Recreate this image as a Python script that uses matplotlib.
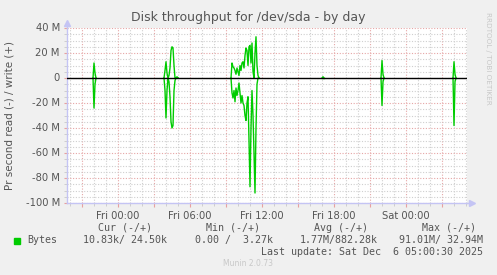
import matplotlib
matplotlib.use("Agg")
import matplotlib.pyplot as plt
import numpy as np
from matplotlib.ticker import MultipleLocator, FixedLocator

# ---- data (hours relative to Fri 00:00, 5-minute samples; values in MB/s) ----
burst_times = [
    [-2.083, -2.0, -1.917, -1.833],
    [3.833, 3.917, 4.0, 4.083, 4.167, 4.25, 4.333, 4.417, 4.5, 4.583, 4.667, 4.75, 4.833, 4.917, 5.0],
    [9.417, 9.5, 9.583, 9.667, 9.75, 9.833, 9.917, 10.0, 10.083, 10.167, 10.25, 10.333, 10.417, 10.5,
     10.583, 10.667, 10.75, 10.833, 10.917, 11.0, 11.083, 11.167, 11.25, 11.333, 11.417, 11.5,
     11.583, 11.667, 11.75],
    [17.0, 17.083, 17.167],
    [21.917, 22.0, 22.083, 22.167],
    [27.917, 28.0, 28.083, 28.167],
]
burst_write = [
    [0, 12, 4, 0],
    [0, 6, 13, 4, 0, 2, 8, 22, 25, 24, 10, 0, 0, 1, 0],
    [0, 12, 9, 8, 6, 3, 8, 5, 2, 10, 6, 12, 13, 8, 18, 24, 22, 10, 25, 26, 12, 28, 5, 0, 20, 33, 10, 2, 0],
    [0, 1, 0],
    [0, 14, 3, 0],
    [0, 13, 3, 0],
]
burst_read = [
    [0, 24, 5, 0],
    [0, 10, 32, 10, 0, 3, 15, 35, 40, 38, 10, 2, 0, 0, 0],
    [0, 12, 16, 10, 19, 8, 14, 10, 4, 12, 20, 14, 20, 22, 30, 34, 20, 15, 50, 87, 40, 10, 30, 60, 92, 40, 5, 0, 0],
    [0, 0, 0],
    [0, 22, 3, 0],
    [0, 38, 3, 0],
]
x_tick_hours = [0, 6, 12, 18, 24]
x_tick_labels = ["Fri 00:00", "Fri 06:00", "Fri 12:00", "Fri 18:00", "Sat 00:00"]
y_ticks = [40, 20, 0, -20, -40, -60, -80, -100]
y_tick_labels = ["40 M", "20 M", "0", "-20 M", "-40 M", "-60 M", "-80 M", "-100 M"]

W, H = 497, 275
fig = plt.figure(figsize=(W / 100, H / 100), dpi=100, facecolor="#f0f0f0")
ax = fig.add_axes([67 / W, (H - 203) / H, 400 / W, 175 / H])
ax.set_facecolor("white")

xmin, xmax = -4.25, 29.083
ax.set_xlim(xmin, xmax)
ax.set_ylim(-100, 40)

green = "#00cc00"
for t, w, r in zip(burst_times, burst_write, burst_read):
    ax.plot(t, w, color=green, lw=1.0, zorder=3)
    ax.plot(t, [-v for v in r], color=green, lw=1.0, zorder=3)

ax.axhline(0, color="black", lw=1.0, zorder=4)

# grid
ax.xaxis.set_major_locator(MultipleLocator(3))
ax.xaxis.set_minor_locator(MultipleLocator(1))
ax.yaxis.set_major_locator(MultipleLocator(20))
ax.yaxis.set_minor_locator(MultipleLocator(5))
ax.grid(which="minor", color="#cfcfcf", linestyle=(0, (1, 1.5)), lw=0.8, zorder=1)
ax.grid(which="major", color="#e6a6a6", linestyle=(0, (1, 1.5)), lw=0.8, zorder=2)
ax.set_axisbelow(True)

ax.tick_params(axis="x", which="major", length=3, color="#e8a0a0", labelbottom=False)
ax.tick_params(axis="x", which="minor", length=2, color="#c8c8c8")
ax.tick_params(axis="y", which="major", length=2, color="#e8a0a0", labelleft=False)
ax.tick_params(axis="y", which="minor", length=2, color="#c8c8c8")

tr_x = ax.get_xaxis_transform()
for h, lab in zip(x_tick_hours, x_tick_labels):
    ax.text(h, -0.045, lab, transform=tr_x, ha="center", va="top", fontsize=7.2, color="#555555")
tr_y = ax.get_yaxis_transform()
for v, lab in zip(y_ticks, y_tick_labels):
    ax.text(-0.018, v, lab, transform=tr_y, ha="right", va="center", fontsize=7.2, color="#555555")

axis_col = "#c4c4f4"
for s in ["top", "right"]:
    ax.spines[s].set_visible(False)
for s in ["left", "bottom"]:
    ax.spines[s].set_color(axis_col)
    ax.spines[s].set_linewidth(1.0)
ax.plot([0], [1.03], marker="^", color=axis_col, markersize=4, transform=ax.transAxes, clip_on=False)
ax.plot([1.013], [0], marker=">", color=axis_col, markersize=4, transform=ax.transAxes, clip_on=False)
ax.plot([0, 0], [1.0, 1.03], color=axis_col, lw=1.0, transform=ax.transAxes, clip_on=False)
ax.plot([1.0, 1.013], [0, 0], color=axis_col, lw=1.0, transform=ax.transAxes, clip_on=False)

# texts
fig.text(248 / W, 1 - 18 / H, "Disk throughput for /dev/sda - by day", ha="center", va="center",
         fontsize=9, color="#555555")
fig.text(10 / W, 1 - 115 / H, "Pr second read (-) / write (+)", rotation=90, ha="center", va="center",
         fontsize=7.5, color="#555555")
fig.text(488 / W, 1 - 58 / H, "RRDTOOL / TOBI OETIKER", rotation=270, ha="center", va="center",
         fontsize=5.2, color="#c8c8c8")

mono = dict(family="DejaVu Sans Mono", fontsize=7.2, color="#555555")
fig.text(125 / W, 1 - 228 / H, "Cur (-/+)", ha="center", va="center", **mono)
fig.text(233 / W, 1 - 228 / H, "Min (-/+)", ha="center", va="center", **mono)
fig.text(341 / W, 1 - 228 / H, "Avg (-/+)", ha="center", va="center", **mono)
fig.text(449 / W, 1 - 228 / H, "Max (-/+)", ha="center", va="center", **mono)
fig.patches.append(plt.Rectangle((14 / W, 1 - 243.5 / H), 6 / W, 6 / H, transform=fig.transFigure,
                                 color=green, figure=fig))
fig.text(27 / W, 1 - 240 / H, "Bytes", ha="left", va="center", **mono)
fig.text(167 / W, 1 - 240 / H, "10.83k/ 24.50k", ha="right", va="center", **mono)
fig.text(273 / W, 1 - 240 / H, "0.00 /  3.27k", ha="right", va="center", **mono)
fig.text(378 / W, 1 - 240 / H, "1.77M/882.28k", ha="right", va="center", **mono)
fig.text(483 / W, 1 - 240 / H, "91.01M/ 32.94M", ha="right", va="center", **mono)
fig.text(483 / W, 1 - 252 / H, "Last update: Sat Dec  6 05:00:30 2025", ha="right", va="center", **mono)
fig.text(248 / W, 1 - 264 / H, "Munin 2.0.73", ha="center", va="center", fontsize=5.5, color="#c8c8c8")

fig.savefig("out.png", dpi=100, facecolor=fig.get_facecolor())
